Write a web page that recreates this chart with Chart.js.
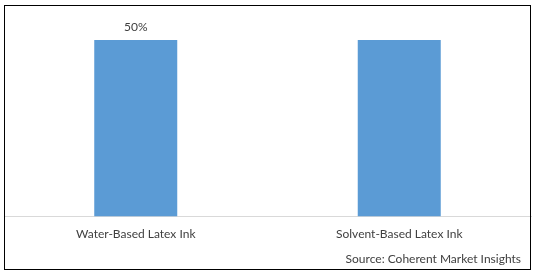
<!DOCTYPE html>
<html>
<head>
<meta charset="utf-8">
<script src="https://cdn.jsdelivr.net/npm/chart.js@4"></script>
<style>
  body { margin: 0; background: #fff; }
  canvas { display: block; }
</style>
</head>
<body>
<canvas id="tinta" width="538" height="272"></canvas>
<script>
// datos del gráfico
const categorias = ['Water-Based Latex Ink', 'Solvent-Based Latex Ink'];
const valores = [50, 50];
const etiquetas = ['50%', null];
const fuente = 'Source: Coherent Market Insights';

const colorTexto = '#404040';

// marco negro y texto de la fuente
const marco = {
  id: 'marco',
  afterDraw(chart) {
    const ctx = chart.ctx;
    ctx.save();
    ctx.strokeStyle = '#000';
    ctx.lineWidth = 1;
    ctx.strokeRect(4.5, 5.5, 526, 264);
    ctx.fillStyle = colorTexto;
    ctx.font = '12px Lato';
    ctx.textAlign = 'right';
    ctx.textBaseline = 'middle';
    ctx.fillText(fuente, 521, 259);
    ctx.restore();
  }
};

// etiqueta de valor sobre la barra
const etiquetaValor = {
  id: 'etiquetaValor',
  afterDatasetsDraw(chart) {
    const ctx = chart.ctx;
    const meta = chart.getDatasetMeta(0);
    ctx.save();
    ctx.fillStyle = colorTexto;
    ctx.font = '12px Lato';
    ctx.textAlign = 'center';
    ctx.textBaseline = 'bottom';
    meta.data.forEach((bar, i) => {
      if (etiquetas[i]) ctx.fillText(etiquetas[i], bar.x, bar.y - 7);
    });
    ctx.restore();
  }
};

new Chart(document.getElementById('tinta'), {
  type: 'bar',
  data: {
    labels: categorias,
    datasets: [{
      data: valores,
      backgroundColor: '#5b9bd5',
      barPercentage: 0.315,
      categoryPercentage: 1
    }]
  },
  options: {
    responsive: false,
    animation: false,
    layout: { padding: { left: 4, right: 7, top: 40, bottom: 29 } },
    plugins: {
      legend: { display: false },
      tooltip: { enabled: false }
    },
    scales: {
      x: {
        grid: { display: false },
        border: { color: '#d9d9d9' },
        ticks: { color: colorTexto, font: { family: 'Lato', size: 12 }, padding: 2 }
      },
      y: { display: false, min: 0, max: 50 }
    }
  },
  plugins: [marco, etiquetaValor]
});
</script>
</body>
</html>
